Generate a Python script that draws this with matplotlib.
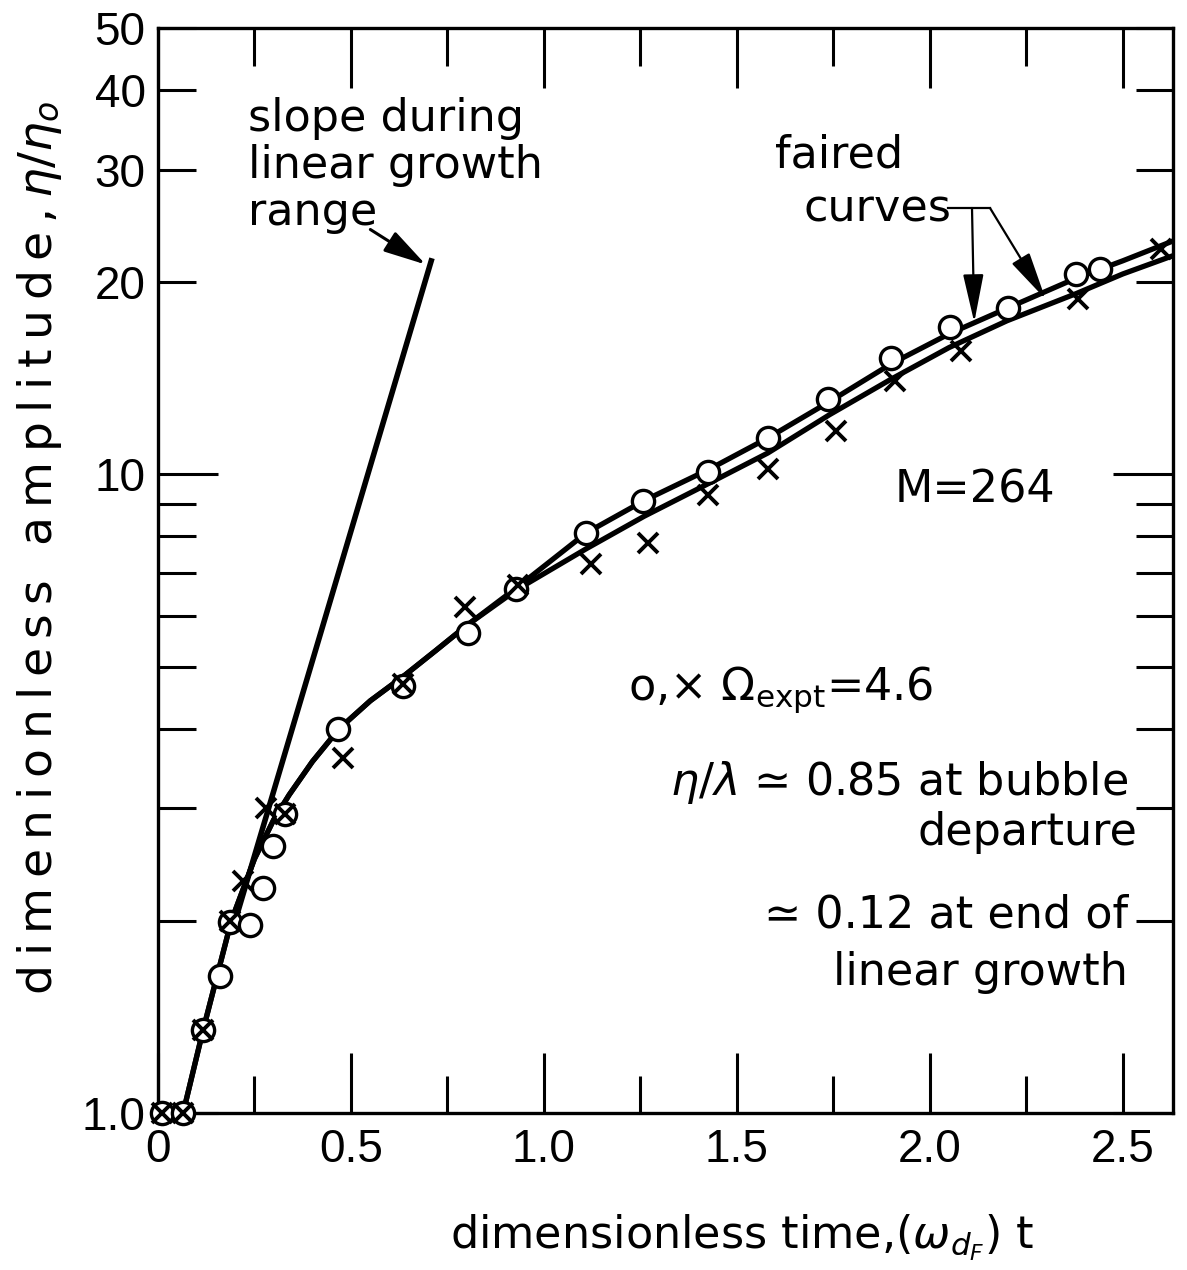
import matplotlib
matplotlib.use("Agg")
import matplotlib.pyplot as plt
from matplotlib.ticker import FixedLocator, FixedFormatter

# ===== DATA =====
# open circles
circ_t = [0.01, 0.065, 0.117, 0.161, 0.187, 0.238, 0.272, 0.298, 0.329,
          0.466, 0.635, 0.803, 0.927, 1.109, 1.256, 1.425, 1.58, 1.736,
          1.899, 2.052, 2.202, 2.378, 2.44]
circ_eta = [1.0, 1.0, 1.35, 1.64, 1.99, 1.97, 2.25, 2.62, 2.94,
            4.0, 4.66, 5.65, 6.62, 8.1, 9.1, 10.1, 11.4, 13.1,
            15.2, 17.0, 18.2, 20.6, 21.0]
# crosses
cross_t = [0.01, 0.065, 0.117, 0.187, 0.22, 0.28, 0.329, 0.479, 0.635,
           0.795, 0.933, 1.122, 1.269, 1.425, 1.58, 1.756, 1.909, 2.08,
           2.383, 2.60]
cross_eta = [1.0, 1.0, 1.35, 2.0, 2.31, 3.0, 2.94, 3.6, 4.7,
             6.2, 6.7, 7.24, 7.8, 9.3, 10.2, 11.7, 14.0, 15.6,
             18.8, 22.5]
# faired curves
fair_t = [0.065, 0.117, 0.19, 0.25, 0.30, 0.34, 0.40, 0.47, 0.55, 0.64, 0.72,
          0.80, 0.93, 1.11, 1.26, 1.43, 1.58, 1.74, 1.90, 2.05, 2.20, 2.38,
          2.50, 2.63]
fair_upper = [1.0, 1.35, 2.0, 2.5, 2.88, 3.15, 3.55, 4.0, 4.42, 4.85, 5.3,
              5.8, 6.65, 8.1, 9.1, 10.2, 11.4, 13.0, 14.9, 16.6, 18.2, 20.3,
              21.6, 23.2]
fair_lower = [1.0, 1.35, 2.0, 2.5, 2.88, 3.15, 3.55, 4.0, 4.42, 4.85, 5.3,
              5.8, 6.6, 7.65, 8.6, 9.7, 10.8, 12.4, 14.1, 15.8, 17.4, 19.2,
              20.6, 22.0]
# slope during linear growth range
slope_t = [0.20, 0.71]
slope_eta = [2.0, 21.8]

x_major = [0, 0.5, 1.0, 1.5, 2.0, 2.5]
x_labels = ['0', '0.5', '1.0', '1.5', '2.0', '2.5']
x_minor = [0.25, 0.75, 1.25, 1.75, 2.25]
y_major = [1, 10]
y_major_labels = ['1.0', '10']
y_minor = [2, 3, 4, 5, 6, 7, 8, 9, 20, 30, 40, 50]
y_minor_labels = ['', '', '', '', '', '', '', '', '20', '30', '40', '50']

# ===== STYLE =====
W, H = 1187, 1270
TICK_FONT = 'Liberation Sans'
plt.rcParams['font.family'] = ['DejaVu Sans']
plt.rcParams['mathtext.fontset'] = 'dejavusans'


def fx(x, y):
    """pixel (from top-left) -> figure fraction"""
    return x / W, 1 - y / H


def spaced(s):
    # the lettering on the y title is set wider than the rest
    return '\u2009'.join(s)


fig = plt.figure(figsize=(W / 100, H / 100), dpi=100)
ax = fig.add_axes([158 / W, 1 - 1113 / H, (1173 - 158) / W, (1113 - 28) / H])
ax.set_yscale('log')
ax.set_xlim(0, 2.63)
ax.set_ylim(1, 50)

# faired curves + slope line
ax.plot(fair_t, fair_upper, color='black', lw=3.8, zorder=2,
        solid_capstyle='round', solid_joinstyle='round')
ax.plot(fair_t, fair_lower, color='black', lw=3.8, zorder=2,
        solid_capstyle='round', solid_joinstyle='round')
ax.plot(slope_t, slope_eta, color='black', lw=4.0, zorder=2, solid_capstyle='butt')

# data points
ax.plot(circ_t, circ_eta, ls='none', marker='o', ms=16, mfc='white', mec='black',
        mew=2.4, zorder=3, clip_on=False)
ax.plot(cross_t, cross_eta, ls='none', marker='x', ms=15, mec='black',
        mew=2.8, zorder=4, clip_on=False)

# ticks
ax.xaxis.set_major_locator(FixedLocator(x_major))
ax.xaxis.set_major_formatter(FixedFormatter(x_labels))
ax.xaxis.set_minor_locator(FixedLocator(x_minor))
ax.yaxis.set_major_locator(FixedLocator(y_major))
ax.yaxis.set_major_formatter(FixedFormatter(y_major_labels))
ax.yaxis.set_minor_locator(FixedLocator(y_minor))
ax.yaxis.set_minor_formatter(FixedFormatter(y_minor_labels))

ax.tick_params(which='both', direction='in', top=True, right=True, width=2.2,
               colors='black', labelsize=33)
ax.tick_params(which='major', length=43)
ax.tick_params(which='minor', length=27)
ax.tick_params(axis='x', which='both', pad=11)
ax.tick_params(axis='y', which='both', pad=9)
for lab in ax.get_xticklabels() + ax.get_yticklabels() + ax.get_yticklabels(minor=True):
    lab.set_fontfamily(TICK_FONT)

for sp in ax.spines.values():
    sp.set_linewidth(2.4)

# axis titles
fig.text(*fx(40, 548), spaced('dimenionless amplitude,') + '\u2009' + r'$\eta/\eta_o$',
         rotation=90, ha='center', va='center', fontsize=34)
fig.text(*fx(742, 1238), r'dimensionless time,($\omega_{d_F}$) t',
         ha='center', va='center', fontsize=32)

# annotations
fig.text(*fx(248, 97), 'slope during\nlinear growth\nrange', ha='left', va='top',
         fontsize=32, linespacing=1.12)
ax.annotate('', xy=fx(428, 266), xycoords='figure fraction',
            xytext=fx(368, 228), textcoords='figure fraction',
            arrowprops=dict(arrowstyle='-|>,head_length=1.3,head_width=0.35',
                            color='black', lw=2.2, mutation_scale=20))

fig.text(*fx(775, 155), 'faired', ha='left', va='center', fontsize=32)
fig.text(*fx(803, 208), 'curves', ha='left', va='center', fontsize=32)
fig.add_artist(plt.Line2D([948 / W, 990 / W], [1 - 208 / H, 1 - 208 / H],
                          color='black', lw=1.6))
ax.annotate('', xy=(2.115, 17.3), xycoords='data',
            xytext=fx(972, 208), textcoords='figure fraction',
            arrowprops=dict(arrowstyle='-|>,head_length=1.5,head_width=0.32',
                            color='black', lw=1.6, mutation_scale=20,
                            shrinkA=0, shrinkB=0))
ax.annotate('', xy=(2.30, 18.8), xycoords='data',
            xytext=fx(990, 208), textcoords='figure fraction',
            arrowprops=dict(arrowstyle='-|>,head_length=1.5,head_width=0.32',
                            color='black', lw=1.6, mutation_scale=20,
                            shrinkA=0, shrinkB=0))

fig.text(*fx(895, 490), 'M=264', ha='left', va='center', fontsize=32)
fig.text(*fx(628, 690), r'o,× $\Omega_{\mathrm{expt}}$=4.6', ha='left', va='center',
         fontsize=32)
fig.text(*fx(1128, 782), r'$\eta/\lambda$ ≃ 0.85 at bubble', ha='right',
         va='center', fontsize=32)
fig.text(*fx(1137, 832), 'departure', ha='right', va='center', fontsize=32)
fig.text(*fx(1128, 915), '≃ 0.12 at end of', ha='right', va='center',
         fontsize=32)
fig.text(*fx(1128, 972), 'linear growth', ha='right', va='center', fontsize=32)

fig.savefig('out.png', dpi=100)
